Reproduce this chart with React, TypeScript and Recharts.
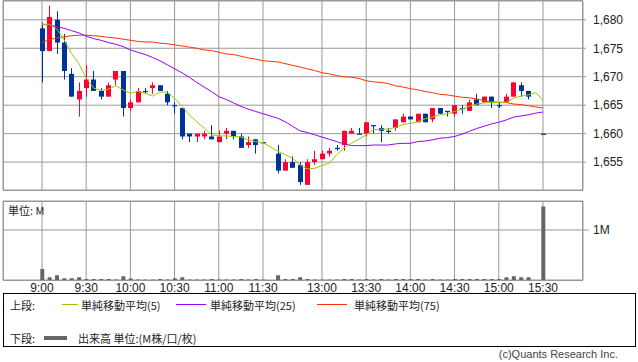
import React from 'react';
import { ComposedChart, Bar, Line, XAxis, YAxis, CartesianGrid } from 'recharts';

// 5分足 (11:30 と 12:30 の間、15:25 は空き)
const times = [
  '9:00', '9:05', '9:10', '9:15', '9:20', '9:25', '9:30', '9:35', '9:40', '9:45', '9:50', '9:55',
  '10:00', '10:05', '10:10', '10:15', '10:20', '10:25', '10:30', '10:35', '10:40', '10:45', '10:50', '10:55',
  '11:00', '11:05', '11:10', '11:15', '11:20', '11:25', '11:30', '',
  '12:30', '12:35', '12:40', '12:45', '12:50', '12:55',
  '13:00', '13:05', '13:10', '13:15', '13:20', '13:25', '13:30', '13:35', '13:40', '13:45', '13:50', '13:55',
  '14:00', '14:05', '14:10', '14:15', '14:20', '14:25', '14:30', '14:35', '14:40', '14:45', '14:50', '14:55',
  '15:00', '15:05', '15:10', '15:15', '15:20', '15:25', '15:30',
];

const tickLabels = [
  '9:00', '9:30', '10:00', '10:30', '11:00', '11:30',
  '13:00', '13:30', '14:00', '14:30', '15:00', '15:30',
];

const open = [
  1678.5, 1674.5, 1680, 1676, 1670.5, 1666, 1668, 1669.5, 1667.5, 1666.5, 1669.5, 1671,
  1664.5, 1665.5, 1667.5, 1668, 1668.5, 1667, 1665, 1664.5, 1660, 1659.5, 1659.5, 1659.5,
  1658.5, 1660, 1660.5, 1659.5, 1658, 1659, 1658.5, null,
  1656.5, 1653.5, 1655, 1654.5, 1651, 1655,
  1655.5, 1656.5, 1657.5, 1658, 1660, 1660, 1660, 1661.5, 1661, 1660.5, 1661, 1662,
  1663, 1662, 1663.5, 1662.5, 1664.5, 1664, 1663.5, 1664.5, 1664, 1666, 1665.5, 1666.5,
  1665, 1665.5, 1666.5, 1668.5, 1667.5, null, 1660,
];
const high = [
  1679.5, 1682.5, 1681.5, 1677.5, 1671.5, 1669, 1672, 1671, 1668, 1669, 1671, 1671,
  1666, 1668, 1668, 1669, 1668.5, 1667.5, 1665.5, 1664.5, 1660, 1660, 1660.5, 1661.5,
  1660.5, 1661, 1660.5, 1660, 1659.5, 1659, 1658.5, null,
  1658, 1655.5, 1656, 1655, 1655.5, 1657,
  1657, 1657.5, 1658, 1660.5, 1661, 1661, 1662, 1661.5, 1661.5, 1661, 1662.5, 1663.5,
  1663, 1663.5, 1663.5, 1664.5, 1664.5, 1664, 1665, 1665, 1666, 1667, 1666.5, 1666.5,
  1665.5, 1667, 1669, 1669, 1667.5, null, 1660,
];
const low = [
  1669, 1674.5, 1674, 1669.5, 1666.5, 1663, 1666.5, 1667.5, 1666, 1666.5, 1668.5, 1663,
  1664, 1665.5, 1667, 1667, 1667.5, 1665, 1663.5, 1659, 1658.5, 1658.5, 1659, 1659,
  1658.5, 1659, 1659, 1657.5, 1657.5, 1656.5, 1658.5, null,
  1653, 1653.5, 1654, 1651, 1651, 1654.5,
  1655.5, 1656, 1657, 1657, 1660, 1660, 1659.5, 1660, 1658.5, 1660, 1660.5, 1662,
  1662.5, 1662, 1662, 1662, 1663.5, 1663, 1663, 1663.5, 1664, 1665, 1665.5, 1664.5,
  1664.5, 1665.5, 1666.5, 1666.5, 1666, null, 1660,
];
const close = [
  1674.5, 1680.5, 1676, 1671, 1666.5, 1667.5, 1669.5, 1667.5, 1666.5, 1668.5, 1671, 1664.5,
  1665.5, 1667.5, 1667.5, 1668.5, 1667.5, 1665.5, 1665, 1659.5, 1659.5, 1660, 1660, 1659,
  1659.5, 1660.5, 1659.5, 1657.5, 1658.5, 1658, 1658.5, null,
  1653.5, 1655, 1654, 1651.5, 1655, 1655.5,
  1656.5, 1657, 1657.5, 1660.5, 1660.5, 1660, 1662, 1661.5, 1660.5, 1660.5, 1662.5, 1663,
  1662.5, 1663.5, 1662, 1664.5, 1663.5, 1664, 1665, 1664.5, 1665.5, 1665, 1666.5, 1665.5,
  1665, 1666.5, 1669, 1667.5, 1666.5, null, 1660,
];

// 単純移動平均
const ma5 = [
  1679.2, 1679.2, 1678.4, 1676.5, 1674.1, 1672.3, 1669.8, 1668, 1667.6, 1667.8, 1668.4, 1667.7,
  1667.1, 1667.4, 1667.1, 1666.6, 1667.3, 1667.3, 1666.2, 1664.8, 1663.3, 1662.1, 1661, 1659.8,
  1659.6, 1659.6, 1659.5, 1659.4, 1658.9, 1658.6, 1658.4, null,
  1656.9, 1656.3, 1655.7, 1654.5, 1653.8, 1653.9,
  1654.4, 1654.8, 1656.3, 1657.5, 1658.3, 1659, 1659.8, 1660.7, 1660.8, 1660.8, 1661.1, 1661.6,
  1661.8, 1662.1, 1662.6, 1662.9, 1663.3, 1663.5, 1663.9, 1664.3, 1664.8, 1665.2, 1665.4, 1665.5,
  1665.5, 1665.5, 1666.2, 1666.6, 1666.8, 1667.2, 1665.9,
];
const ma25 = [
  1679.2, 1679.1, 1678.8, 1678.5, 1678.1, 1677.7, 1677.1, 1676.7, 1676.4, 1676, 1675.7, 1675.3,
  1674.7, 1674.3, 1673.9, 1673.4, 1672.8, 1672.1, 1671.4, 1670.7, 1669.9, 1669, 1668.2, 1667.4,
  1666.5, 1666, 1665.4, 1664.8, 1664.3, 1663.9, 1663.5, null,
  1662.7, 1662.1, 1661.3, 1660.5, 1660.2, 1659.8,
  1659.4, 1659, 1658.6, 1658.2, 1657.9, 1657.9, 1657.9, 1658, 1658, 1658, 1658.2, 1658.3,
  1658.3, 1658.6, 1658.7, 1658.9, 1659.2, 1659.3, 1659.5, 1659.9, 1660.4, 1660.9, 1661.3, 1661.7,
  1662, 1662.4, 1662.9, 1663.1, 1663.3, 1663.6, 1663.8,
];
const ma75 = [
  1676, 1676.5, 1676.8, 1677, 1677.2, 1677.3, 1677.3, 1677.2, 1677.1, 1676.9, 1676.8, 1676.6,
  1676.4, 1676.2, 1676.1, 1676.1, 1675.9, 1675.8, 1675.6, 1675.4, 1675.2, 1675, 1674.7, 1674.6,
  1674.3, 1674, 1673.9, 1673.6, 1673.3, 1673.1, 1672.8, null,
  1672.6, 1672.3, 1672, 1671.7, 1671.4, 1671.1,
  1670.7, 1670.5, 1670.2, 1670, 1669.9, 1669.7, 1669.3, 1669.1, 1669, 1668.8, 1668.4, 1668.2,
  1667.9, 1667.7, 1667.4, 1667.2, 1666.9, 1666.8, 1666.6, 1666.4, 1666.3, 1666.1, 1665.8, 1665.6,
  1665.5, 1665.5, 1665.2, 1665.1, 1664.9, 1664.7, 1664.5,
];

// 出来高 (単位: M)
const volume = [
  0.22, 0.055, 0.095, 0.035, 0.035, 0.055, 0.02, 0.02, 0.02, 0.02, 0.01, 0.075,
  0.03, 0.01, 0.008, 0.008, 0.02, 0.01, 0.035, 0.055, 0.01, 0.01, 0.01, 0.02,
  0.01, 0.01, 0.01, 0.02, 0.01, 0.02, 0.008, null,
  0.095, 0.02, 0.02, 0.055, 0.02, 0.01,
  0.008, 0.008, 0.01, 0.02, 0.02, 0.01, 0.02, 0.01, 0.02, 0.01, 0.02, 0.02,
  0.02, 0.02, 0.01, 0.02, 0.01, 0.01, 0.02, 0.02, 0.02, 0.02, 0.02, 0.02,
  0.02, 0.055, 0.075, 0.055, 0.055, null, 1.47,
];

const priceTicks = [1655, 1660, 1665, 1670, 1675, 1680];
const volumeTicks = [1];

const RED = '#ff0033';
const BLUE = '#003399';
const GRID = '#999999';
const NUM_FONT = '"Liberation Sans", Arial, sans-serif';
const JP_FONT = '"Noto Sans CJK JP", "Liberation Sans", sans-serif';

const data = times.map((t, i) => ({
  i,
  time: t,
  open: open[i],
  high: high[i],
  low: low[i],
  close: close[i],
  ma5: ma5[i],
  ma25: ma25[i],
  ma75: ma75[i],
  volume: volume[i],
}));

const timeTicks = tickLabels.map((t) => times.indexOf(t));

const X_DOMAIN: [number, number] = [-5.29, 73.43];

function Candle(props: any) {
  const { x, y, width, height, payload } = props;
  if (!payload || payload.high == null) return null;
  const top = Math.min(y, y + height);
  const h = Math.abs(height);
  const range = payload.high - payload.low;
  const k = range > 0 ? h / range : 0;
  const yOf = (v: number) => top + (payload.high - v) * k;
  const color = payload.close > payload.open ? RED : BLUE;
  const cx = Math.round(x + width / 2) + 0.5;
  const bTop = yOf(Math.max(payload.open, payload.close));
  const bBot = yOf(Math.min(payload.open, payload.close));
  return (
    <g>
      {h > 0 && <line x1={cx} x2={cx} y1={top} y2={top + h} stroke={color} strokeWidth={1} />}
      <rect x={cx - 2.5} y={bTop} width={5} height={Math.max(bBot - bTop, 1.2)} fill={color} />
    </g>
  );
}

const frame = (top: number, height: number): React.CSSProperties => ({
  position: 'absolute',
  left: 3,
  top,
  width: 580,
  height,
  border: `1px solid ${GRID}`,
  boxSizing: 'border-box',
});

export default function App() {
  return (
    <div
      style={{
        position: 'absolute',
        left: 0,
        top: 0,
        width: 638,
        height: 362,
        background: '#fff',
        overflow: 'hidden',
      }}
    >
      <div style={frame(0, 191)} />
      <div style={{ position: 'absolute', left: 0, top: 0 }}>
        <ComposedChart width={638} height={190} data={data} margin={{ top: 1, right: 0, bottom: 0, left: 3 }}>
          <CartesianGrid stroke={GRID} />
          <XAxis dataKey="i" type="number" domain={X_DOMAIN} ticks={timeTicks} hide />
          <YAxis
            orientation="right"
            width={55}
            domain={[1650.1, 1683.3]}
            ticks={priceTicks}
            allowDataOverflow
            axisLine={false}
            tickSize={3}
            tickMargin={7}
            tickLine={{ stroke: GRID }}
            tick={{ fill: '#222', fontSize: 12, fontFamily: NUM_FONT, textAnchor: 'start' }}
            tickFormatter={(v: number) => v.toLocaleString('en-US')}
          />
          <Bar
            dataKey={(d: any) => (d.high == null ? null : [d.low, d.high])}
            barSize={5}
            shape={<Candle />}
            isAnimationActive={false}
          />
          <Line dataKey="ma75" stroke="#ff3300" strokeWidth={1} dot={false} connectNulls isAnimationActive={false} />
          <Line dataKey="ma25" stroke="#9900ff" strokeWidth={1} dot={false} connectNulls isAnimationActive={false} />
          <Line dataKey="ma5" stroke="#99cc00" strokeWidth={1} dot={false} connectNulls isAnimationActive={false} />
        </ComposedChart>
      </div>

      <div style={frame(201, 80)} />
      <div style={{ position: 'absolute', left: 0, top: 0 }}>
        <ComposedChart width={638} height={300} data={data} margin={{ top: 201, right: 0, bottom: 0, left: 3 }}>
          <CartesianGrid stroke={GRID} />
          <XAxis
            dataKey="i"
            type="number"
            domain={X_DOMAIN}
            ticks={timeTicks}
            height={20}
            axisLine={false}
            tickLine={false}
            tickSize={0}
            tickMargin={3}
            tick={{ fill: '#222', fontSize: 12, fontFamily: NUM_FONT }}
            tickFormatter={(v: number) => times[v]}
            interval={0}
          />
          <YAxis
            orientation="right"
            width={55}
            domain={[0, 1.58]}
            ticks={volumeTicks}
            axisLine={false}
            tickSize={6}
            tickMargin={4}
            tickLine={{ stroke: GRID }}
            tick={{ fill: '#222', fontSize: 12, fontFamily: NUM_FONT, textAnchor: 'start' }}
            tickFormatter={(v: number) => `${v}M`}
          />
          <Bar dataKey="volume" fill="#666666" barSize={4} isAnimationActive={false} />
        </ComposedChart>
      </div>
      <div style={{ position: 'absolute', left: 8, top: 202, fontSize: 11, fontFamily: JP_FONT, color: '#222' }}>
        単位: M
      </div>

      <div
        style={{
          position: 'absolute',
          left: 3,
          top: 293,
          width: 633,
          height: 54,
          border: '1px solid #000',
          boxSizing: 'border-box',
          fontFamily: JP_FONT,
          fontSize: 11,
          color: '#222',
        }}
      >
        <span style={{ position: 'absolute', left: 6, top: 3 }}>上段:</span>
        <span style={{ position: 'absolute', left: 58, top: 10, width: 16, height: 1, background: '#99cc00' }} />
        <span style={{ position: 'absolute', left: 77, top: 3 }}>単純移動平均(5)</span>
        <span style={{ position: 'absolute', left: 172, top: 10, width: 30, height: 1, background: '#9900ff' }} />
        <span style={{ position: 'absolute', left: 206, top: 3 }}>単純移動平均(25)</span>
        <span style={{ position: 'absolute', left: 313, top: 10, width: 30, height: 1, background: '#ff3300' }} />
        <span style={{ position: 'absolute', left: 350, top: 3 }}>単純移動平均(75)</span>
        <span style={{ position: 'absolute', left: 6, top: 36 }}>下段:</span>
        <span style={{ position: 'absolute', left: 40, top: 42, width: 23, height: 4, background: '#666666' }} />
        <span style={{ position: 'absolute', left: 74, top: 36 }}>出来高 単位:(M株/口/枚)</span>
      </div>
      <div
        style={{
          position: 'absolute',
          right: 20,
          top: 348,
          fontSize: 11,
          fontFamily: NUM_FONT,
          color: '#444',
        }}
      >
        (c)Quants Research Inc.
      </div>
    </div>
  );
}
